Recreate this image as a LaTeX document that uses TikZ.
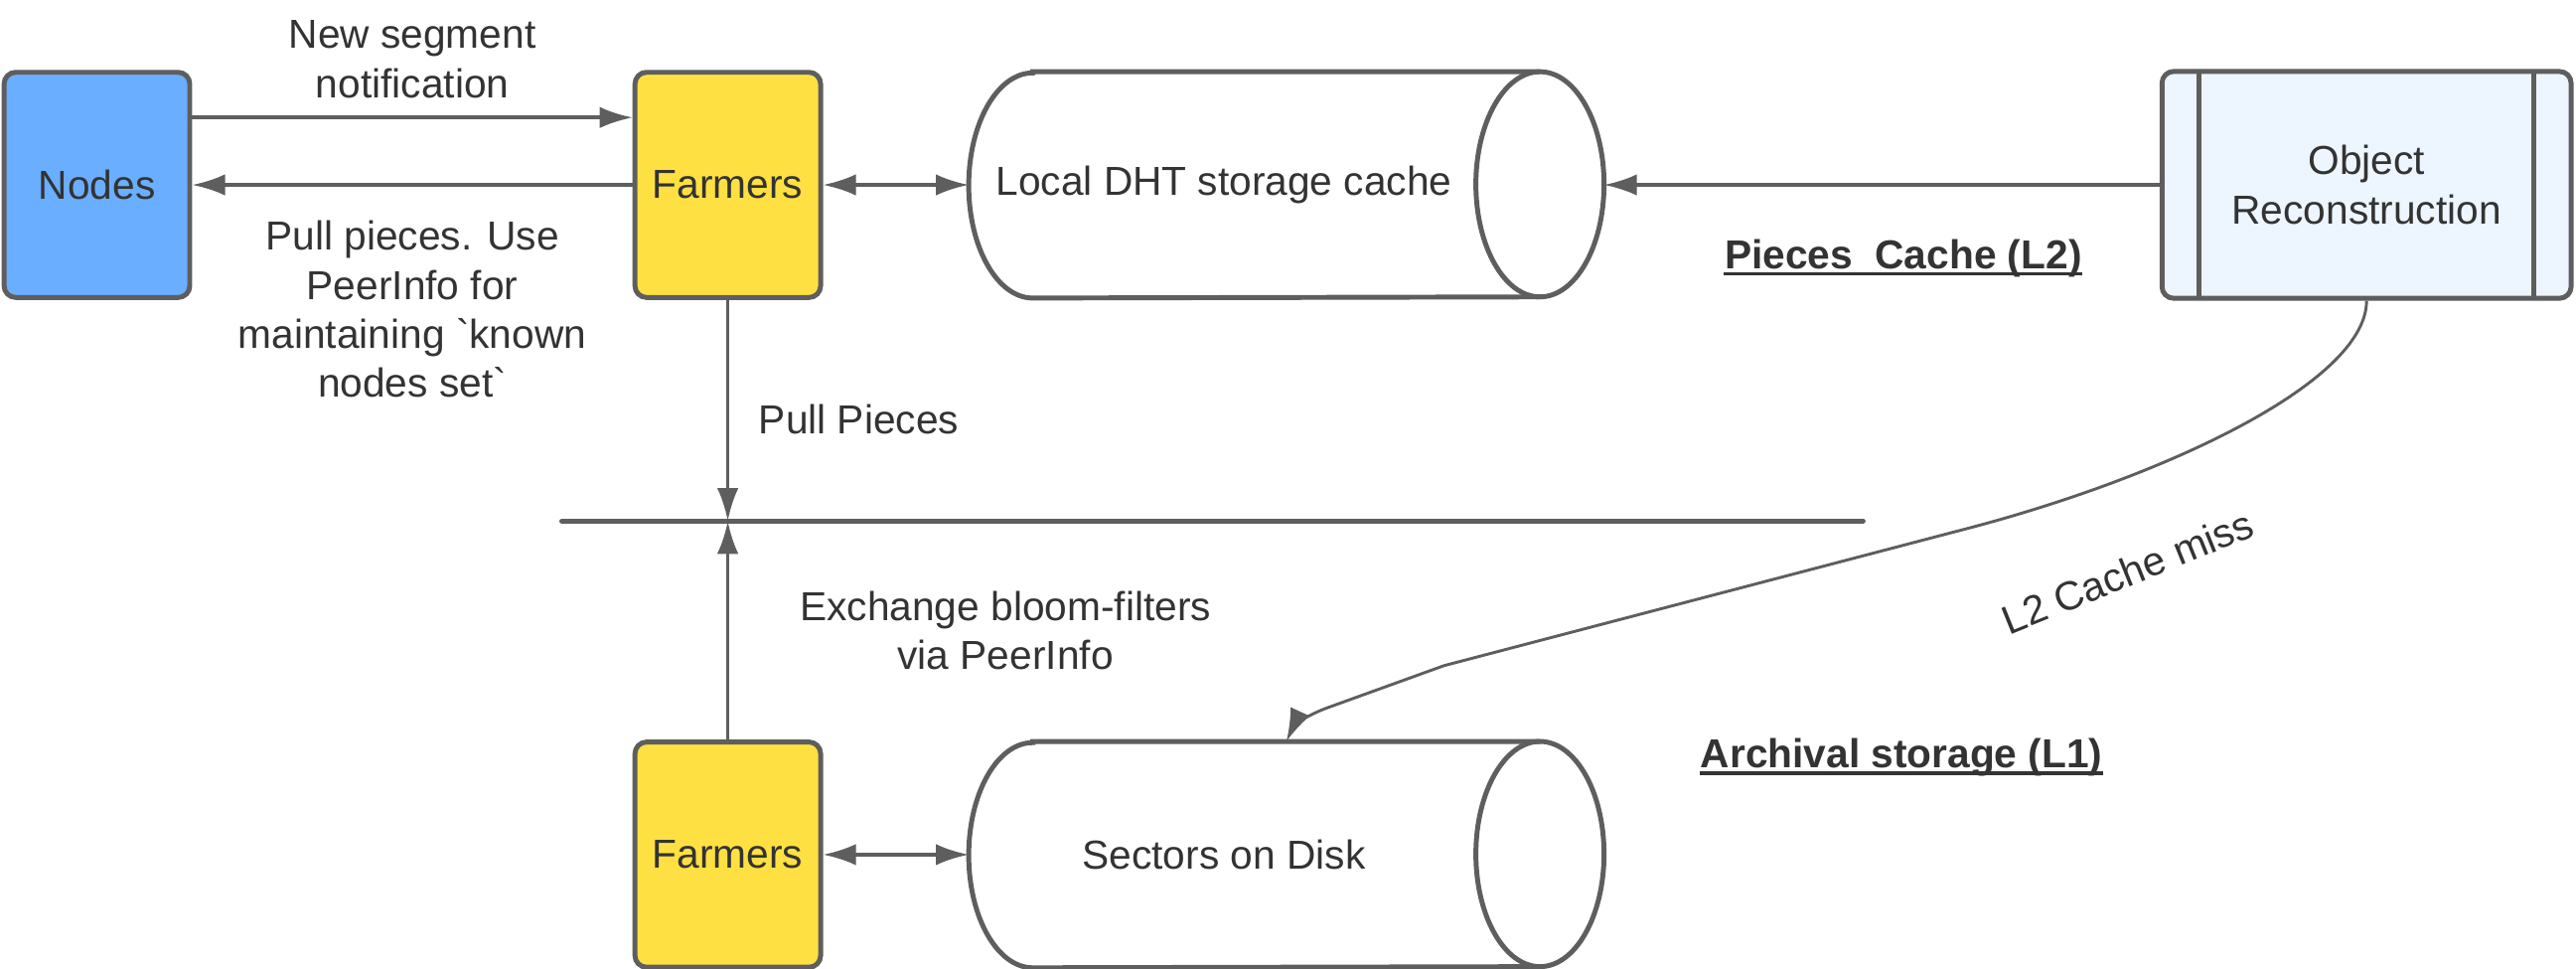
\documentclass[tikz,border=0pt]{standalone}
\usepackage{fontspec}
\newfontfamily\lucid{Liberation Sans}
\newcommand\diagfont{\lucid\fontsize{14}{17}\selectfont}
\usetikzlibrary{shapes,arrows,arrows.meta,positioning}
\definecolor{edge}{HTML}{5E5E5E}
\definecolor{ink}{HTML}{333333}
\definecolor{nodeblue}{HTML}{6AAEFF}
\definecolor{farmyellow}{HTML}{FFE042}
\definecolor{paleblue}{HTML}{EDF5FF}
\tikzstyle{peer} = [rectangle, draw=edge, line width=1.7pt, rounded corners=4pt,
    minimum width=2.26cm, minimum height=2.74cm, text=ink]
\tikzstyle{store} = [rectangle, inner sep=0pt, minimum width=7.72cm, minimum height=2.74cm]
\tikzstyle{process} = [rectangle, draw=edge, line width=1.7pt, rounded corners=4pt,
    fill=paleblue, minimum width=4.98cm, minimum height=2.76cm, text=ink, align=center,
    path picture={
      \draw[edge, line width=1.7pt] ([xshift=0.45cm]path picture bounding box.north west)
        -- ([xshift=0.45cm]path picture bounding box.south west);
      \draw[edge, line width=1.7pt] ([xshift=-0.45cm]path picture bounding box.north east)
        -- ([xshift=-0.45cm]path picture bounding box.south east);}]
\tikzstyle{line} = [draw=edge, line width=1.2pt, -{Latex[length=0.4cm, width=0.26cm]}]
\tikzstyle{both} = [line, {Latex[length=0.4cm, width=0.26cm]}-{Latex[length=0.4cm, width=0.26cm]}]
\tikzstyle{note} = [text=ink, align=center]
\tikzstyle{tier} = [text=ink, inner xsep=0pt, font=\diagfont\bfseries]
% outline of a lying drum around a store node
\newcommand\drum[1]{%
  \draw[edge, line width=1.7pt] ([xshift=0.78cm]#1.north west) -- ([xshift=-0.78cm]#1.north east)
    arc[start angle=90, end angle=-90, x radius=0.78cm, y radius=1.37cm]
    -- ([xshift=0.78cm]#1.south west)
    arc[start angle=270, end angle=90, x radius=0.78cm, y radius=1.37cm] -- cycle;
  \draw[edge, line width=1.7pt] ([xshift=-0.78cm]#1.north east)
    arc[start angle=90, end angle=270, x radius=0.78cm, y radius=1.37cm];}
% underline under a tier heading
\newcommand\tierline[1]{%
  \draw[ink, line width=1.2pt] ([yshift=-1.8pt]#1.base west) -- ([yshift=-1.8pt]#1.base east);}

\begin{document}
\begin{tikzpicture}[node distance = 2cm, auto, font=\diagfont]
    \useasboundingbox (0,0) rectangle (31.36,-11.79);
    \node[peer, fill=nodeblue] (nodes) at (1.18,-2.25) {Nodes};
    \node[peer, fill=farmyellow, right of=nodes, node distance=7.68cm] (farmers) {Farmers};
    \node[store, right of=farmers, node distance=6.8cm,
        label={[note, xshift=-0.76cm]center:Local DHT storage cache}] (dht) {};
    \node[process, right of=dht, node distance=13.15cm] (recon) {Object\\Reconstruction};
    \node[peer, fill=farmyellow, below of=farmers, node distance=8.15cm] (farmers2) {Farmers};
    \node[store, right of=farmers2, node distance=6.8cm,
        label={[note, xshift=-0.76cm]center:Sectors on Disk}] (disk) {};
    \drum{dht}
    \drum{disk}
    \node[tier] (l2) at (23.17,-3.14) {Pieces\ \ Cache (L2)};
    \node[tier] (l1) at (23.15,-9.22) {Archival storage (L1)};
    \tierline{l2}
    \tierline{l1}
    \node[note, rotate=22] (miss) at (25.9,-6.96) {L2 Cache miss};

    % the shared bar between the two farmer groups
    \coordinate (barL) at (6.84,-6.34);
    \coordinate (barR) at (22.68,-6.34);
    \draw[edge, line width=1.8pt, line cap=round] (barL) -- (barR);

    \path[line] ([yshift=0.82cm]nodes.east) -- ([yshift=0.82cm]nodes.east -| farmers.west)
        node[midway, above, note, yshift=0.1cm] {New segment\\notification};
    \path[line] (farmers.west) -- (nodes.east)
        node[midway, below, note, yshift=-0.3cm] {Pull pieces. Use\\PeerInfo for\\maintaining `known\\nodes set`};
    \path[both] (farmers.east) -- (farmers.east -| dht.west);
    \path[line] (recon.west) -- (recon.west -| dht.east);
    \path[line] (farmers.south) -- (farmers.south |- barL)
        node[pos=0.54, right, xshift=0.24cm, note] {Pull Pieces};
    \path[line] (farmers2.north) -- (farmers2.north |- barL)
        node[midway, right, xshift=0.74cm, note] {Exchange bloom-filters\\via PeerInfo};
    \path[both] (farmers2.east) -- (farmers2.east -| disk.west);
    \path[line, line width=1pt] (recon.south) .. controls +(0,-1.0) and (26.3,-5.83) .. (23.84,-6.46)
        -- (17.58,-8.10) -- (16.14,-8.62) .. controls (15.9,-8.71) and (15.74,-8.85) .. (disk.north);
\end{tikzpicture}
\end{document}
